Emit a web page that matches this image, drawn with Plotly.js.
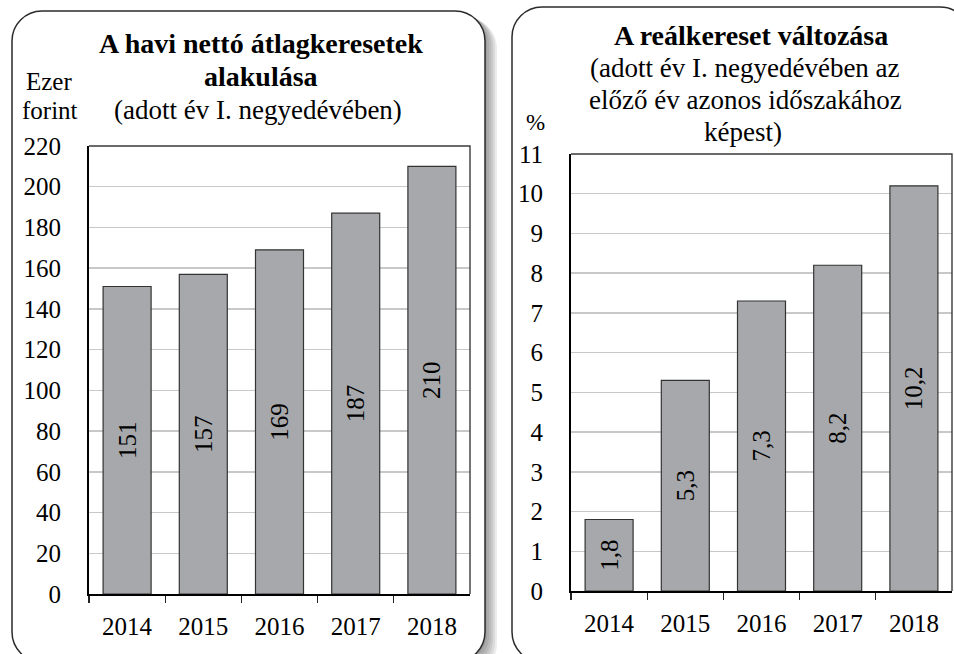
<!DOCTYPE html>
<html>
<head>
<meta charset="utf-8">
<script src="https://cdn.plot.ly/plotly-3.0.1.min.js"></script>
<style>html,body{margin:0;padding:0;background:#fff;}#chart{width:954px;height:654px;}</style>
</head>
<body>
<div id="chart"></div>
<script>
// ---- data ----
const years = ['2014', '2015', '2016', '2017', '2018'];
const netWage = [151, 157, 169, 187, 210];            // ezer forint
const realWageChange = [1.8, 5.3, 7.3, 8.2, 10.2];    // %

const leftTitle = ['<b>A havi nettó átlagkeresetek</b>', '<b>alakulása</b>', '(adott év I. negyedévében)'];
const rightTitle = ['<b>A reálkereset változása</b>', '(adott év I. negyedévében az', 'előző év azonos időszakához', 'képest)'];
const leftUnit = ['Ezer', 'forint'];
const rightUnit = ['%'];

// ---- layout helpers ----
const W = 954, H = 654;
const FONT = '"Liberation Serif", "Times New Roman", "DejaVu Serif", serif';
function px(x) { return x / W; }
function py(y) { return 1 - y / H; }
function P(x, y) { return px(x).toFixed(5) + ',' + py(y).toFixed(5); }
function rr(x0, y0, x1, y1, r) {
  const k = 0.5523 * r;
  return 'M' + P(x0 + r, y0) +
    ' L' + P(x1 - r, y0) +
    ' C' + P(x1 - r + k, y0) + ' ' + P(x1, y0 + r - k) + ' ' + P(x1, y0 + r) +
    ' L' + P(x1, y1 - r) +
    ' C' + P(x1, y1 - r + k) + ' ' + P(x1 - r + k, y1) + ' ' + P(x1 - r, y1) +
    ' L' + P(x0 + r, y1) +
    ' C' + P(x0 + r - k, y1) + ' ' + P(x0, y1 - r + k) + ' ' + P(x0, y1 - r) +
    ' L' + P(x0, y0 + r) +
    ' C' + P(x0, y0 + r - k) + ' ' + P(x0 + r - k, y0) + ' ' + P(x0 + r, y0) + ' Z';
}

const L = {x0: 89, x1: 470, y0: 146, y1: 594};
const R = {x0: 571, x1: 952, y0: 154, y1: 591};

const shapes = [];
// shadows
[12, 10, 8, 6, 4, 2].forEach(function (o) {
  shapes.push({type: 'path', xref: 'paper', yref: 'paper', layer: 'below',
    path: rr(12 + o, 11 + o * 0.6, 485 + o, 662 + o, 30),
    line: {width: 0}, fillcolor: 'rgba(0,0,0,0.075)'});
  shapes.push({type: 'path', xref: 'paper', yref: 'paper', layer: 'below',
    path: rr(512 + o, 7 + o * 0.6, 970 + o, 662 + o, 30),
    line: {width: 0}, fillcolor: 'rgba(0,0,0,0.075)'});
});
// panels
shapes.push({type: 'path', xref: 'paper', yref: 'paper', layer: 'below',
  path: rr(12, 11, 485, 662, 30), line: {color: '#2b2b2b', width: 1.5}, fillcolor: '#ffffff'});
shapes.push({type: 'path', xref: 'paper', yref: 'paper', layer: 'below',
  path: rr(512, 7, 970, 662, 30), line: {color: '#2b2b2b', width: 1.5}, fillcolor: '#ffffff'});
// top/right plot borders
[L, R].forEach(function (b) {
  shapes.push({type: 'path', xref: 'paper', yref: 'paper', layer: 'above',
    path: 'M' + P(b.x0, b.y0) + ' L' + P(b.x1, b.y0) + ' L' + P(b.x1, b.y1),
    line: {color: '#3a3a3a', width: 1.4}});
});

const annotations = [];
function ann(text, x, y, size) {
  annotations.push({text: text, x: px(x), y: py(y), xref: 'paper', yref: 'paper',
    xanchor: 'center', yanchor: 'middle', showarrow: false,
    font: {family: FONT, size: size, color: '#000'}});
}
ann(leftTitle[0], 261, 44, 28);
ann(leftTitle[1], 261, 76, 28);
ann(leftTitle[2], 258, 110, 27);
ann(leftUnit[0], 49, 82, 25);
ann(leftUnit[1], 50, 111, 25);
ann(rightTitle[0], 751, 35, 28);
ann(rightTitle[1], 745, 68, 27);
ann(rightTitle[2], 745, 100, 27);
ann(rightTitle[3], 743, 132, 27);
ann(rightUnit[0], 535, 123, 23);

const barStyle = {color: '#a7a8ab', line: {color: '#333333', width: 1.2}};
const textFont = {family: FONT, size: 25, color: '#000'};

const traces = [
  {type: 'bar', x: years, y: netWage, xaxis: 'x', yaxis: 'y', marker: barStyle,
   texttemplate: '%{y}', textposition: 'inside', insidetextanchor: 'middle',
   textangle: -90, constraintext: 'none', textfont: textFont, hoverinfo: 'skip'},
  {type: 'bar', x: years, y: realWageChange, xaxis: 'x2', yaxis: 'y2', marker: barStyle,
   texttemplate: '%{y:.1f}', textposition: 'inside', insidetextanchor: 'middle',
   textangle: -90, constraintext: 'none', textfont: textFont, hoverinfo: 'skip'}
];

function xAx(b) {
  return {domain: [px(b.x0), px(b.x1)], type: 'category', showgrid: false, zeroline: false,
    showline: true, linecolor: '#000', linewidth: 2,
    ticks: 'outside', tickson: 'boundaries', ticklen: 7, tickwidth: 1.3, tickcolor: '#222',
    ticklabelstandoff: 9, tickfont: {family: FONT, size: 25, color: '#000'}, fixedrange: true};
}
function yAx(b, max, dt) {
  return {domain: [py(b.y1), py(b.y0)], range: [0, max], dtick: dt, tick0: 0,
    showgrid: true, gridcolor: '#c8c8c8', gridwidth: 1.5, zeroline: false,
    showline: true, linecolor: '#000', linewidth: 2, ticks: '',
    ticklabelstandoff: 21, tickfont: {family: FONT, size: 25, color: '#000'}, fixedrange: true};
}

const layout = {
  width: W, height: H, margin: {l: 0, r: 0, t: 0, b: 0},
  paper_bgcolor: '#ffffff', plot_bgcolor: 'rgba(0,0,0,0)',
  separators: ', ', showlegend: false, bargap: 0.37,
  font: {family: FONT, color: '#000'},
  xaxis: Object.assign(xAx(L), {anchor: 'y'}),
  yaxis: Object.assign(yAx(L, 220, 20), {anchor: 'x'}),
  xaxis2: Object.assign(xAx(R), {anchor: 'y2'}),
  yaxis2: Object.assign(yAx(R, 11, 1), {anchor: 'x2'}),
  shapes: shapes, annotations: annotations
};

Plotly.newPlot('chart', traces, layout, {displayModeBar: false, staticPlot: true});
</script>
</body>
</html>
